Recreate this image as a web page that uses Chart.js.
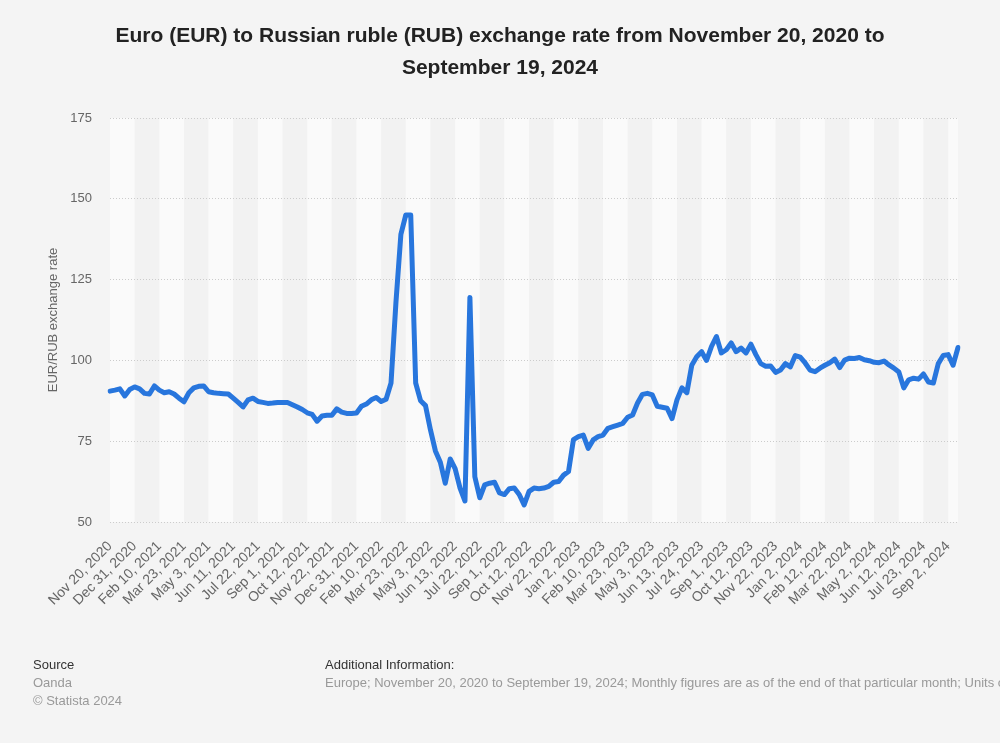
<!DOCTYPE html>
<html>
<head>
<meta charset="utf-8">
<script src="https://cdn.jsdelivr.net/npm/chart.js@4.4.1/dist/chart.umd.min.js"></script>
<style>
  html, body { margin:0; padding:0; background:#f4f4f4; width:1000px; height:743px; overflow:hidden; }
  #wrap { position:relative; width:1000px; height:743px; }
  canvas { position:absolute; left:0; top:0; }
  .title { position:absolute; left:0; top:19px; width:1000px; text-align:center; font-family:'Liberation Sans', Arial, sans-serif; font-weight:bold; font-size:21px; line-height:32px; color:#222; }
  .foot { position:absolute; font-family:'Liberation Sans Narrow', 'Liberation Sans', Arial, sans-serif; font-size:13px; line-height:18px; white-space:nowrap; }
  .foot b { font-weight:normal; color:#333; }
  .foot span { color:#999; }
</style>
</head>
<body>
<div id="wrap">
  <canvas id="c" width="1000" height="743"></canvas>
  <div class="title">Euro (EUR) to Russian ruble (RUB) exchange rate from November 20, 2020 to<br>September 19, 2024</div>
  <div class="foot" style="left:33px; top:656px;"><b>Source</b><br><span>Oanda</span><br><span>© Statista 2024</span></div>
  <div class="foot" style="left:325px; top:656px;"><b>Additional Information:</b><br><span>Europe; November 20, 2020 to September 19, 2024; Monthly figures are as of the end of that particular month; Units of RUB per EUR</span></div>
</div>
<script>
const tickLabels = ["Nov 20, 2020","Dec 31, 2020","Feb 10, 2021","Mar 23, 2021","May 3, 2021","Jun 11, 2021","Jul 22, 2021","Sep 1, 2021","Oct 12, 2021","Nov 22, 2021","Dec 31, 2021","Feb 10, 2022","Mar 23, 2022","May 3, 2022","Jun 13, 2022","Jul 22, 2022","Sep 1, 2022","Oct 12, 2022","Nov 22, 2022","Jan 2, 2023","Feb 10, 2023","Mar 23, 2023","May 3, 2023","Jun 13, 2023","Jul 24, 2023","Sep 1, 2023","Oct 12, 2023","Nov 22, 2023","Jan 2, 2024","Feb 12, 2024","Mar 22, 2024","May 2, 2024","Jun 12, 2024","Jul 23, 2024","Sep 2, 2024"];
const pointsPerLabel = 5;
const eurRub = [
 90.5,90.8,91.2,89.0,91.0,91.8,91.2,89.8,89.6,92.1,
 90.8,90.0,90.3,89.6,88.3,87.2,90.0,91.5,92.0,92.1,
 90.3,90.0,89.8,89.7,89.6,88.3,87.0,85.6,87.8,88.3,
 87.3,87.0,86.7,86.8,87.0,87.0,87.0,86.3,85.6,84.8,
 83.8,83.3,81.2,82.8,83.0,83.0,85.0,84.0,83.6,83.6,
 83.7,85.8,86.5,87.8,88.5,87.3,88.0,93.0,118.0,139.0,
 145.0,145.0,93.0,87.5,86.0,78.5,72.0,68.5,62.0,69.5,
 66.5,60.5,56.5,119.5,64.0,57.5,61.5,62.0,62.3,59.0,
 58.5,60.3,60.5,58.5,55.3,59.5,60.5,60.3,60.5,61.0,
 62.3,62.5,64.5,65.6,75.5,76.4,76.9,72.8,75.4,76.4,
 76.9,79.0,79.5,80.0,80.5,82.4,83.1,86.8,89.5,89.8,
 89.3,85.8,85.5,85.2,82.0,87.8,91.5,90.0,98.5,101.1,
 102.7,100.0,104.3,107.4,102.3,103.3,105.4,102.7,103.8,102.3,
 105.0,101.8,99.0,98.2,98.3,96.3,97.0,99.0,98.0,101.5,
 101.0,99.2,97.0,96.5,97.6,98.5,99.3,100.4,97.8,100.1,
 100.7,100.6,100.9,100.2,99.9,99.4,99.3,99.8,98.6,97.6,
 96.4,91.5,94.0,94.5,94.2,95.8,93.3,93.0,99.0,101.5,
 101.8,98.5,104.0
];
const yTicks = [50, 75, 100, 125, 150, 175];

const labels = eurRub.map((v, i) => (i % pointsPerLabel === 0 && tickLabels[i / pointsPerLabel]) ? tickLabels[i / pointsPerLabel] : '');
const FONT = "'Liberation Sans', Arial, sans-serif";

const bandPlugin = {
  id: 'bands',
  beforeDraw(chart) {
    const {ctx, chartArea, scales} = chart;
    const xs = scales.x;
    if (!xs) return;
    ctx.save();
    for (let k = 0; k < tickLabels.length; k++) {
      const x0 = xs.getPixelForValue(k * pointsPerLabel);
      const x1 = (k + 1 < tickLabels.length) ? xs.getPixelForValue((k + 1) * pointsPerLabel) : chartArea.right;
      ctx.fillStyle = (k % 2 === 0) ? '#fafafa' : '#f2f2f2';
      ctx.fillRect(x0, chartArea.top, x1 - x0, chartArea.bottom - chartArea.top);
    }
    ctx.restore();
  }
};

new Chart(document.getElementById('c'), {
  type: 'line',
  data: {
    labels: labels,
    datasets: [{
      data: eurRub,
      borderColor: '#2876dd',
      borderWidth: 5,
      pointRadius: 0,
      tension: 0,
      borderJoinStyle: 'round',
      borderCapStyle: 'round',
      fill: false
    }]
  },
  options: {
    responsive: false,
    animation: false,
    layout: { padding: { top: 118, right: 42, bottom: 100, left: 0 } },
    plugins: { legend: { display: false }, tooltip: { enabled: false }, title: { display: false } },
    scales: {
      x: {
        type: 'category',
        offset: false,
        grid: { display: false, drawTicks: false },
        border: { display: false },
        ticks: {
          autoSkip: false, maxRotation: 45, minRotation: 45, padding: 16,
          color: '#666', font: { size: 14, family: FONT },
          callback: function(v) { return labels[v]; }
        },
        afterFit(s) { s.height = 121; }
      },
      y: {
        min: 50, max: 175,
        afterBuildTicks(s) { s.ticks = yTicks.map(v => ({ value: v })); },
        grid: { color: '#cccccc', drawTicks: false, lineWidth: 1 },
        border: { display: false, dash: [1, 2] },
        ticks: { color: '#666', font: { size: 13, family: FONT }, padding: 18 },
        title: { display: true, text: 'EUR/RUB exchange rate', color: '#666', font: { size: 13, family: FONT }, padding: { top: 46, bottom: 0 } },
        afterFit(s) { s.width = 110; }
      }
    }
  },
  plugins: [bandPlugin]
});
</script>
</body>
</html>
